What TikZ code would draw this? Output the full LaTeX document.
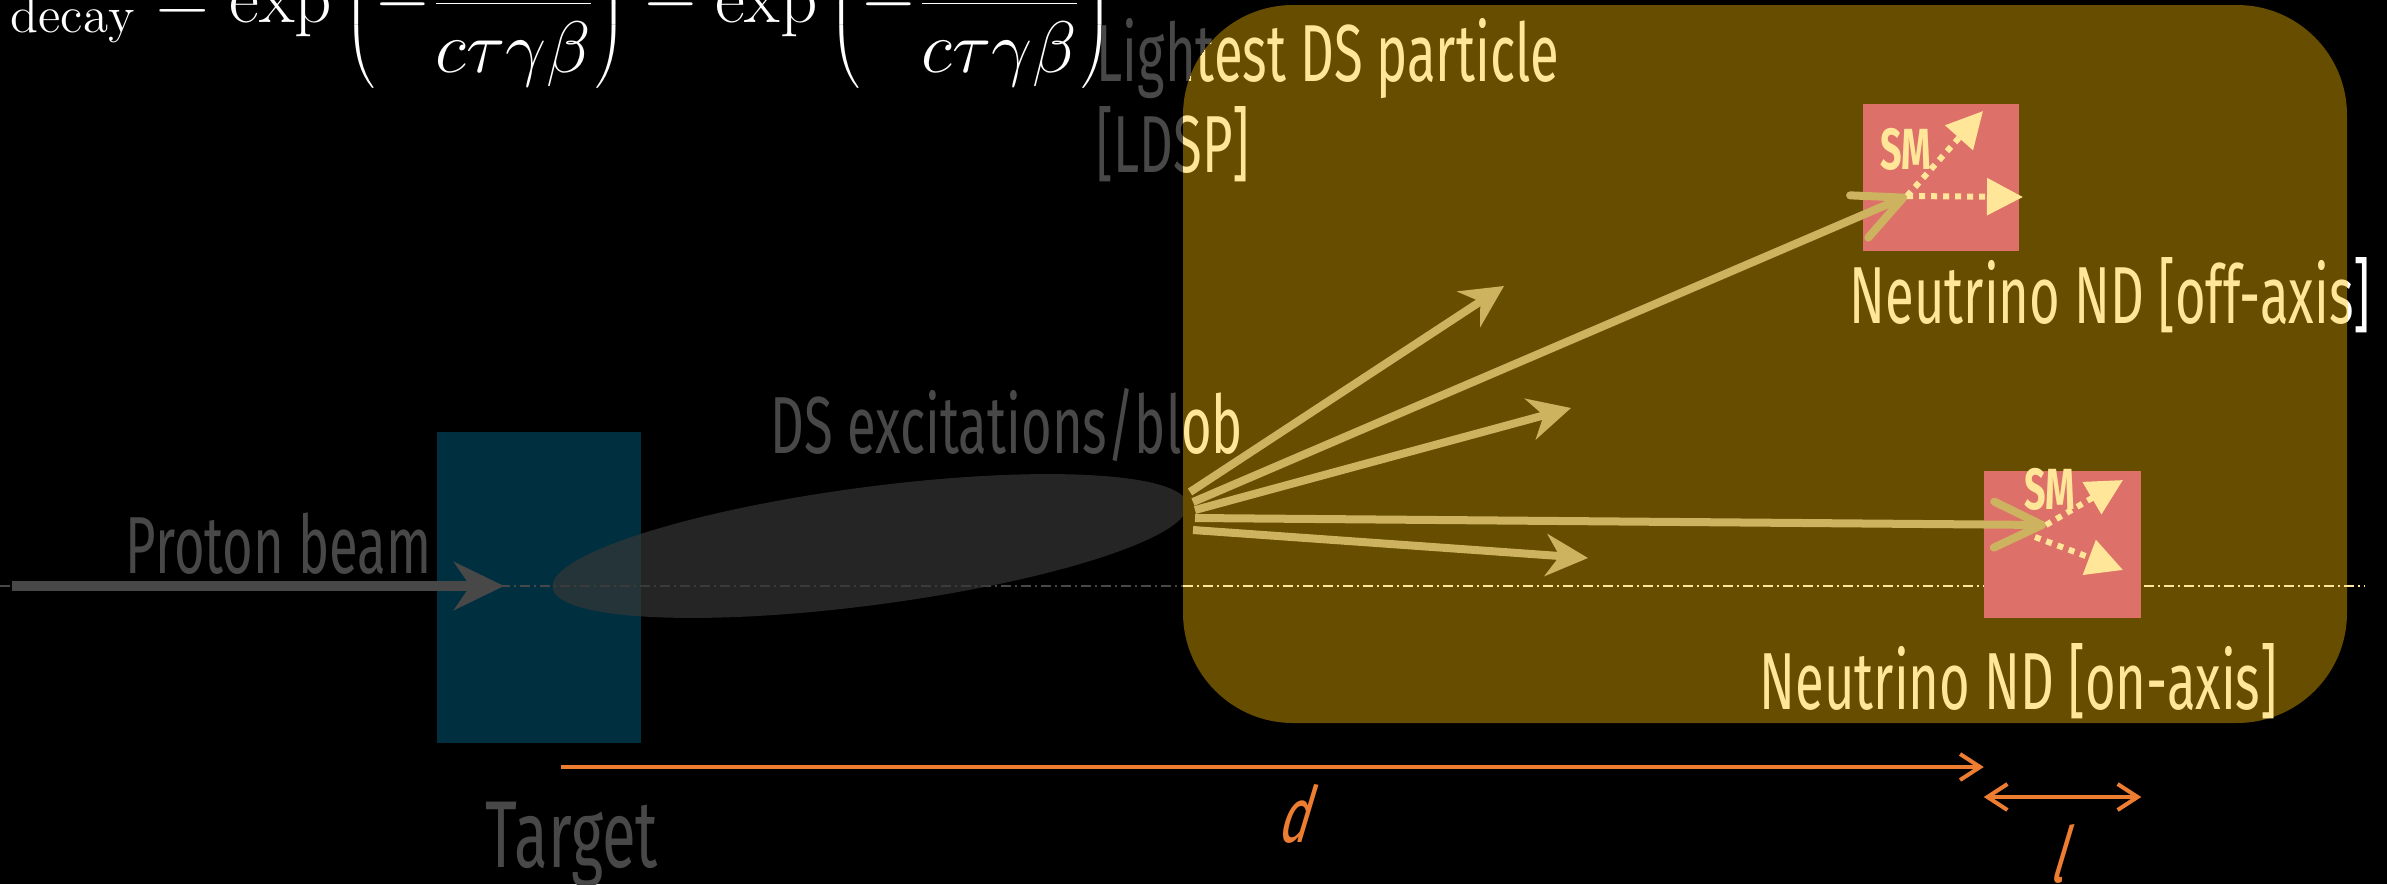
\documentclass[tikz,border=0pt]{standalone}
\usepackage{fontspec}
\usetikzlibrary{arrows.meta,shapes.geometric}
\newfontfamily\agency[FakeStretch=0.65]{Fira Sans}
\newfontfamily\agencyslant[FakeStretch=0.65,FakeSlant=0.3]{Fira Sans}
\definecolor{regionfill}{RGB}{102,77,0}
\definecolor{goldline}{RGB}{205,178,96}
\definecolor{paleyellow}{RGB}{255,230,153}
\definecolor{labelgray}{RGB}{72,72,72}
\definecolor{targetblue}{RGB}{0,48,64}
\definecolor{detsalmon}{RGB}{221,112,104}
\definecolor{dimorange}{RGB}{237,125,49}
\definecolor{blobgray}{RGB}{54,54,54}
\tikzset{
  graytext/.style={text=labelgray, inner sep=0pt, font=\agency\fontsize{23}{25.6}\selectfont},
  yellowtext/.style={graytext, text=paleyellow},
  targetbox/.style={fill=targetblue, minimum width=2.04cm, minimum height=3.11cm, inner sep=0pt},
  blobshape/.style={ellipse, fill=blobgray, fill opacity=0.7, minimum width=6.4cm, minimum height=1.18cm, inner sep=0pt},
  detector/.style={fill=detsalmon, minimum width=1.56cm, minimum height=1.47cm, inner sep=0pt},
  smtext/.style={text=paleyellow, inner sep=0pt, font=\agency\bfseries\fontsize{16.5}{18}\selectfont},
  axisline/.style={line width=0.4pt, dash pattern=on 0.1cm off 0.04cm on 0.02cm off 0.04cm},
  goldarrow/.style={draw=goldline, line width=0.08cm, -{Stealth[length=0.42cm,width=0.42cm]}},
  longarrow/.style={draw=goldline, line width=0.08cm, -{Straight Barb[round,length=0.48cm,width=0.46cm]}},
  smarrow/.style={draw=paleyellow, line width=0.06cm, dash pattern=on 0.06cm off 0.06cm, -{Triangle[length=0.36cm,width=0.36cm]}},
  dimarrow/.style={draw=dimorange, line width=0.04cm, -{Straight Barb[length=0.2cm,width=0.26cm]}},
  dimboth/.style={dimarrow, {Straight Barb[length=0.2cm,width=0.26cm]}-{Straight Barb[length=0.2cm,width=0.26cm]}},
  dimlabel/.style={text=dimorange, inner sep=0pt, font=\agencyslant\fontsize{22}{24}\selectfont}
}
\begin{document}
\begin{tikzpicture}[x=0.01cm, y=-0.01cm]
\useasboundingbox (0,0) rectangle (2387,884);
\fill[black] (0,0) rectangle (2387,884);
\clip (0,0) rectangle (2387,884);
\coordinate (regionnw) at (1183,5);
\coordinate (regionse) at (2347,723);

\node[text=white, inner sep=0pt, anchor=base west, font=\fontsize{20.8}{24}\selectfont] (decayeq) at (-36,22)
  {$\displaystyle P_{\mathrm{decay}} = \exp\left(-\frac{d}{c\tau\gamma\beta}\right) - \exp\left(-\frac{d+l}{c\tau\gamma\beta}\right)$};

\node[targetbox] (target) at (539,587.5) {};
\node[graytext, anchor=base, font=\agency\fontsize{27}{30}\selectfont] (targettext) at (572,867) {Target};
\node[graytext, anchor=base east] (beamtext) at (432,573) {Proton beam};
\node[graytext, anchor=base west] (blobtext) at (770,453) {DS excitations/blob};
\node[graytext, anchor=base west, align=left] (ldsptext) at (1096,172) {Lightest DS particle\\{[}LDSP{]}};
\node[graytext, text=white, anchor=base west] (offtext) at (1849,323) {Neutrino ND {[}off-axis{]}};

\coordinate (axisstart) at (0,586);
\coordinate (axisend) at (2364,586);
\draw[axisline, labelgray] (axisstart) -- (axisstart -| regionnw);
\node[blobshape, rotate=7.5] (blob) at (870,546) {};
\coordinate (beamstart) at (12,586);
\coordinate (beamend) at (504,586);
\draw[draw=labelgray, line width=0.1cm, -{Stealth[length=0.5cm,width=0.48cm]}] (beamstart) -- (beamend);

\fill[regionfill, rounded corners=1.1cm] (regionnw) rectangle (regionse);
\begin{scope}
\clip[rounded corners=1.1cm] (regionnw) rectangle (regionse);
\node[yellowtext, anchor=base west] (blobtextin) at (blobtext.base west) {DS excitations/blob};
\node[yellowtext, anchor=base west, align=left] (ldsptextin) at (ldsptext.base west) {Lightest DS particle\\{[}LDSP{]}};
\node[yellowtext, anchor=base west] (offtextin) at (offtext.base west) {Neutrino ND {[}off-axis{]}};
\end{scope}
\draw[axisline, paleyellow] (axisstart -| regionnw) -- (axisend);

\node[detector] (offdet) at (1941,177.5) {};
\node[detector] (ondet) at (2062.5,544.5) {};
\node[smtext] (offsm) at (1906,149) {SM};
\node[smtext] (onsm) at (2050,489) {SM};
\node[yellowtext, anchor=base west] (ontext) at (1759,709) {Neutrino ND {[}on-axis{]}};

\coordinate (fan1) at (1190,492);
\coordinate (fan2) at (1193,502);
\coordinate (fan3) at (1195,510);
\coordinate (fan4) at (1195,518);
\coordinate (fan5) at (1193,530);
\coordinate (ldsp1) at (1504,286);
\coordinate (ldsp2) at (1571,408);
\coordinate (ldsp3) at (1588,558);
\coordinate (offhit) at (1907,196);
\coordinate (onhit) at (2046,525);
\draw[goldarrow] (fan1) -- (ldsp1);
\draw[goldarrow] (fan3) -- (ldsp2);
\draw[goldarrow] (fan5) -- (ldsp3);
\draw[longarrow] (fan2) -- (offhit);
\draw[longarrow] (fan4) -- (onhit);

\coordinate (offout1) at (2023,197);
\coordinate (offout2) at (1983,111);
\coordinate (onhit2) at (2035,537);
\coordinate (onout1) at (2123,480);
\coordinate (onout2) at (2123,570);
\draw[smarrow] (offhit) -- (offout1);
\draw[smarrow] (offhit) -- (offout2);
\draw[smarrow] (onhit) -- (onout1);
\draw[smarrow] (onhit2) -- (onout2);

\coordinate (dstart) at (561,767);
\coordinate (lrow) at (0,797);
\draw[dimarrow] (dstart) -- (dstart -| ondet.west);
\draw[dimboth] (lrow -| ondet.west) -- (lrow -| ondet.east);
\node[dimlabel, anchor=base] (dlabel) at (1292,842) {d};
\node[dimlabel, anchor=north] (llabel) at (2056,824) {l};
\end{tikzpicture}
\end{document}
